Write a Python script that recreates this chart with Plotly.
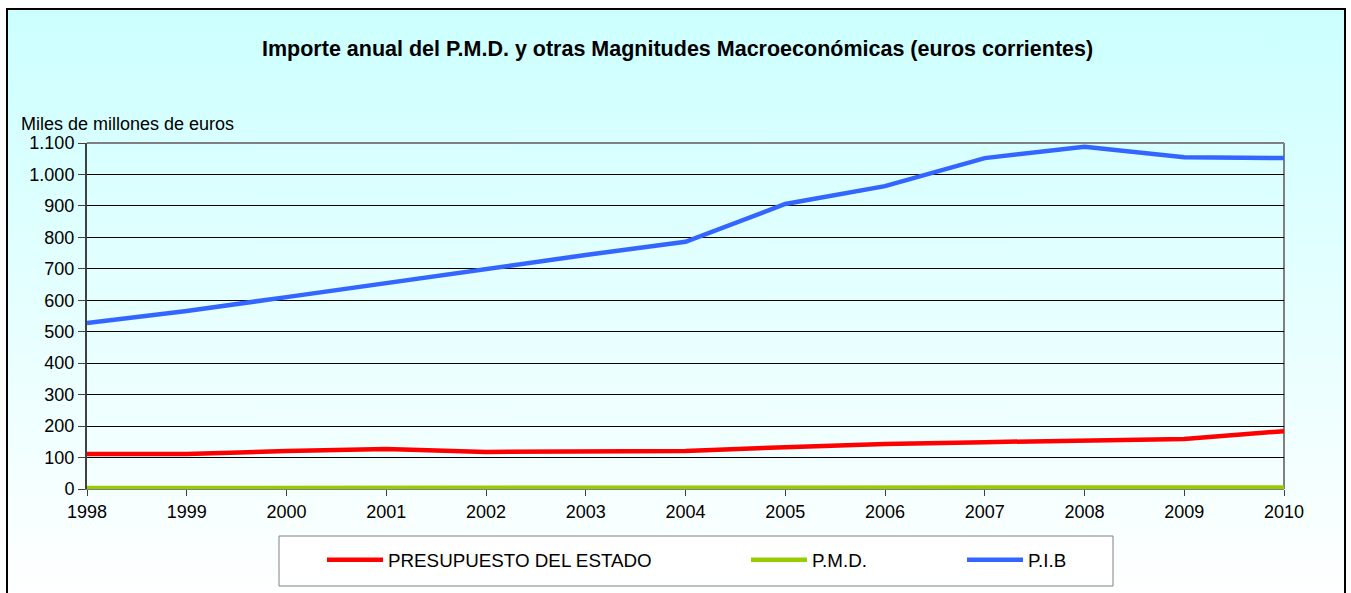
import base64
import plotly.graph_objects as go

years = [1998, 1999, 2000, 2001, 2002, 2003, 2004, 2005, 2006, 2007, 2008, 2009, 2010]
presupuesto = [111, 111, 121, 127, 118, 118, 121, 133, 143, 149, 155, 159, 184]
pmd = [3, 3, 3, 3, 3, 4, 4, 4, 5, 5, 5, 5, 5]
pib = [528, 566, 610, 655, 700, 744, 786, 906, 963, 1052, 1088, 1055, 1052]

series_names = ["PRESUPUESTO DEL ESTADO", "P.M.D.", "P.I.B"]
series_values = [presupuesto, pmd, pib]
series_colors = ["#FF0000", "#99CC00", "#3366FF"]

title_text = "Importe anual del P.M.D. y otras Magnitudes Macroeconómicas (euros corrientes)"
yaxis_label = "Miles de millones de euros"
ytick_vals = list(range(0, 1101, 100))

FONT = "Liberation Sans, Arial, sans-serif"

# plot area geometry (pixels)
W, H = 1351, 593
L, R, T, B = 87, 1284, 143, 489
pw, ph = R - L, B - T


def px_x(x):
    return (x - L) / pw


def px_y(y):
    return (B - y) / ph


fig = go.Figure()
legend_ids = ["legend", "legend2", "legend3"]
for name, vals, col, lid in zip(series_names, series_values, series_colors, legend_ids):
    fig.add_trace(go.Scatter(
        x=years, y=vals, mode="lines", name=name,
        line=dict(color=col, width=4.5),
        legend=lid, cliponaxis=False,
    ))

svg = ('<svg xmlns="http://www.w3.org/2000/svg" width="100" height="100" viewBox="0 0 100 100" '
       'preserveAspectRatio="none"><defs><linearGradient id="g" x1="0" y1="0" x2="0" y2="1">'
       '<stop offset="0" stop-color="#CCFFFF"/><stop offset="1" stop-color="#FFFFFF"/>'
       '</linearGradient></defs><rect width="100" height="100" fill="url(#g)"/></svg>')
src = "data:image/svg+xml;base64," + base64.b64encode(svg.encode()).decode()

box_l, box_r, box_t, box_b = 7, 1345, 9, 600

fig.add_layout_image(dict(
    source=src, xref="paper", yref="paper",
    x=px_x(box_l), y=px_y(box_t),
    sizex=(box_r - box_l) / pw, sizey=(box_b - box_t) / ph,
    xanchor="left", yanchor="top", sizing="stretch", layer="below",
))

shapes = [
    dict(type="rect", xref="paper", yref="paper",
         x0=px_x(box_l), x1=px_x(box_r), y0=px_y(box_b), y1=px_y(box_t),
         line=dict(color="#000000", width=2), layer="above"),
    # top and right plot border
    dict(type="line", xref="paper", yref="paper", x0=0, x1=1, y0=1, y1=1,
         line=dict(color="#808080", width=2)),
    dict(type="line", xref="paper", yref="paper", x0=1, x1=1, y0=0, y1=1,
         line=dict(color="#808080", width=2), layer="below"),
    # legend box
    dict(type="rect", xref="paper", yref="paper",
         x0=px_x(279), x1=px_x(1113), y0=px_y(586), y1=px_y(536),
         line=dict(color="#808080", width=1), fillcolor="#FFFFFF", layer="below"),
]

legend_common = dict(orientation="h", yanchor="middle", xanchor="left",
                     bgcolor="rgba(0,0,0,0)", borderwidth=0, itemwidth=56,
                     font=dict(family=FONT, size=18.8, color="#000000"),
                     itemclick=False, itemdoubleclick=False)
leg_line_x = [327, 751, 967]

fig.update_layout(
    width=W, height=H,
    margin=dict(l=L, r=W - R, t=T, b=H - B, pad=0, autoexpand=False),
    paper_bgcolor="#FFFFFF", plot_bgcolor="rgba(0,0,0,0)",
    separators=",.",
    font=dict(family=FONT, size=18, color="#000000"),
    shapes=shapes,
    showlegend=True,
    legend=dict(legend_common, x=px_x(leg_line_x[0] - 5), y=px_y(560)),
    legend2=dict(legend_common, x=px_x(leg_line_x[1] - 5), y=px_y(560)),
    legend3=dict(legend_common, x=px_x(leg_line_x[2] - 5), y=px_y(560)),
    xaxis=dict(
        range=[years[0], years[-1]], tickmode="array", tickvals=years,
        ticktext=[str(y) for y in years],
        showgrid=False, zeroline=False, showline=True,
        linecolor="#808080", linewidth=1,
        ticks="outside", ticklen=6, tickcolor="#404040", tickwidth=1,
        tickfont=dict(family=FONT, size=18, color="#000000"),
    ),
    yaxis=dict(
        range=[0, 1100], tickmode="array", tickvals=ytick_vals, tickformat=",d",
        showgrid=True, gridcolor="#000000", gridwidth=1,
        zeroline=False, showline=True, linecolor="#404040", linewidth=2,
        ticks="outside", ticklen=7, tickcolor="#404040", tickwidth=1,
        tickfont=dict(family=FONT, size=18, color="#000000"),
    ),
    annotations=[
        dict(text="<b>" + title_text + "</b>", xref="paper", yref="paper",
             x=px_x(677), y=px_y(49), xanchor="center", yanchor="middle",
             showarrow=False, font=dict(family=FONT, size=21.5, color="#000000")),
        dict(text=yaxis_label, xref="paper", yref="paper",
             x=px_x(19), y=px_y(124), xanchor="left", yanchor="middle",
             showarrow=False, font=dict(family=FONT, size=18, color="#000000")),
    ],
)

fig.write_html("out.html", config={"displayModeBar": False},
               post_script="document.body.style.margin='0';")
